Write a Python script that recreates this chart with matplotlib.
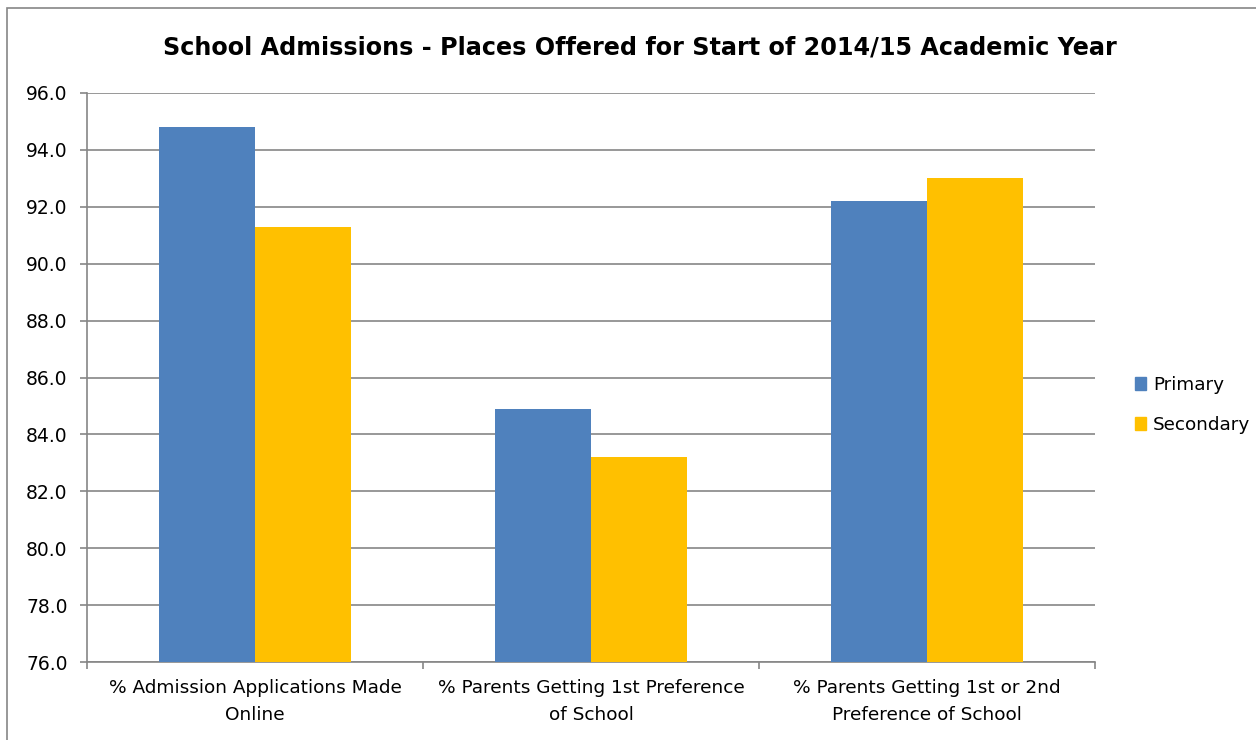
import matplotlib.pyplot as plt
import matplotlib.patches as mpatches
import numpy as np

categories = ['% Admission Applications Made\nOnline',
              '% Parents Getting 1st Preference\nof School',
              '% Parents Getting 1st or 2nd\nPreference of School']
primary = [94.8, 84.9, 92.2]
secondary = [91.3, 83.2, 93.0]
yticks = [76.0, 78.0, 80.0, 82.0, 84.0, 86.0, 88.0, 90.0, 92.0, 94.0, 96.0]

plt.rcParams['font.family'] = ['DejaVu Sans']
grey = '#868686'

fig = plt.figure(figsize=(12.56, 7.4), dpi=100)
ax = fig.add_axes([87 / 1256, 1 - 662 / 740, 1008 / 1256, 569 / 740])

x = np.arange(len(categories))
w = 96 / 336
ax.bar(x - w / 2, [p - 76 for p in primary], w, bottom=76, color='#4f81bd', label='Primary', zorder=3)
ax.bar(x + w / 2, [s - 76 for s in secondary], w, bottom=76, color='#ffc000', label='Secondary', zorder=3)

ax.set_ylim(76, 96)
ax.set_xlim(-0.5, 2.5)
ax.set_yticks(yticks)
ax.set_yticklabels(['%.1f' % v for v in yticks], fontsize=13.5)
ax.yaxis.grid(True, color=grey, linewidth=1.2, zorder=0)

ax.set_xticks([-0.5, 0.5, 1.5, 2.5])
ax.set_xticklabels([])
ax.set_xticks(x, minor=True)
ax.set_xticklabels(categories, minor=True, fontsize=13.3, linespacing=1.65)
ax.tick_params(axis='x', which='minor', length=0, pad=12.5)
ax.tick_params(axis='x', which='major', length=5, width=1.2, color=grey)
ax.tick_params(axis='y', length=5, width=1.2, color=grey, pad=9)

for s in ['top', 'right']:
    ax.spines[s].set_visible(False)
for s in ['left', 'bottom']:
    ax.spines[s].set_color(grey)
    ax.spines[s].set_linewidth(1.2)

fig.text(640 / 1256, 1 - 47.5 / 740, 'School Admissions - Places Offered for Start of 2014/15 Academic Year',
         ha='center', va='center', fontsize=17.2, fontweight='bold')

handles = [mpatches.Patch(color='#4f81bd', label='Primary'),
           mpatches.Patch(color='#ffc000', label='Secondary')]
fig.legend(handles=handles, loc='center left', bbox_to_anchor=(1118 / 1256, 1 - 405 / 740),
           frameon=False, fontsize=13.2, handlelength=0.65, handleheight=0.65,
           handletextpad=0.35, labelspacing=1.2)

fig.add_artist(mpatches.Rectangle((7 / 1256, -0.1), 1.2, 1 - 8 / 740 + 0.1,
                                  transform=fig.transFigure, fill=False,
                                  edgecolor=grey, linewidth=1.2))

fig.savefig('out.png', dpi=100)
